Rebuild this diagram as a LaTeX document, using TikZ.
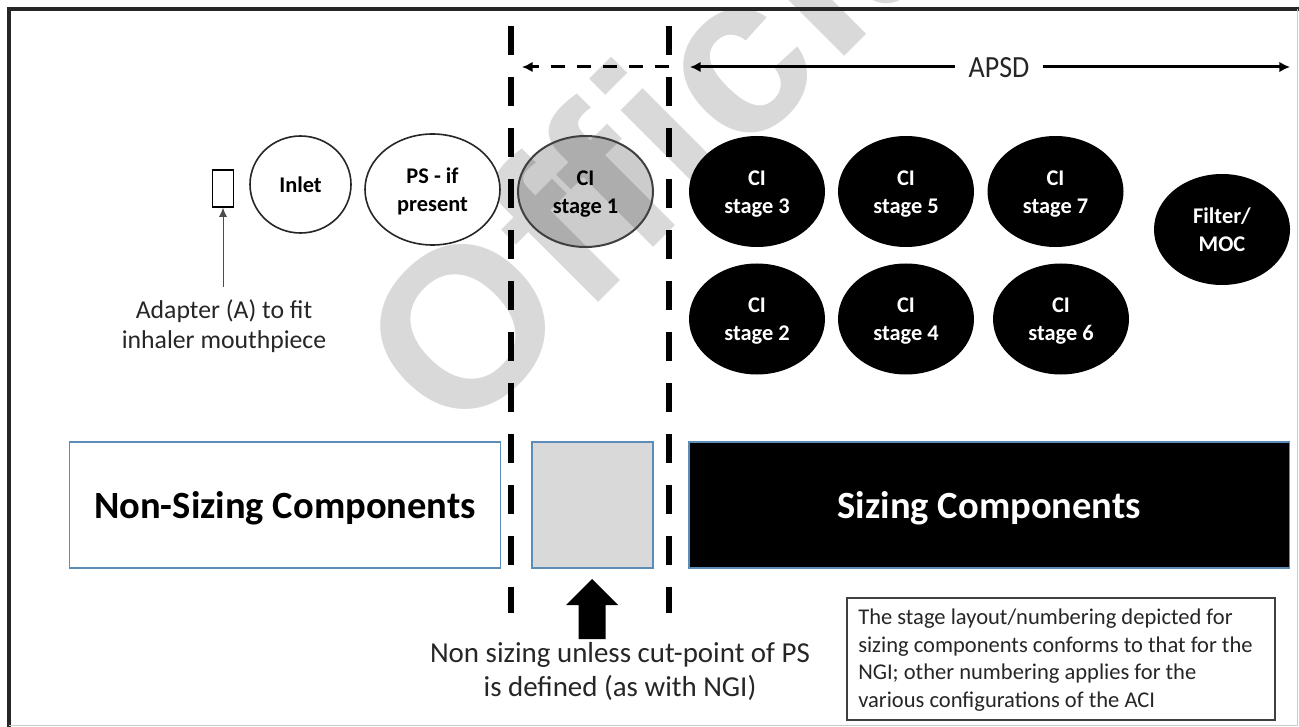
\documentclass[tikz,border=0pt]{standalone}
\usepackage{fontspec}
\setmainfont{Carlito}
\newfontfamily\wmfont[LetterSpace=1.5]{Liberation Sans}
\usetikzlibrary{arrows.meta,shapes.geometric,calc}
\definecolor{edgeblue}{HTML}{5B8DB8}
\definecolor{wmgray}{HTML}{D9D9D9}
\newcommand\ovaldrop{\rule{0pt}{14.4pt}}
\newcommand\boxdrop{\rule{0pt}{25.5pt}}
\tikzset{
  x=0.75pt,y=-0.75pt,
  px/.style={line width=#1*0.75pt},
  oval/.style 2 args={ellipse,inner sep=0pt,minimum width=#1*0.75pt,minimum height=#2*0.75pt,align=center,font=\fontsize{16.8}{21}\selectfont\bfseries},
  lightoval/.style={draw=black!85,px=1.6,fill=white},
  darkoval/.style={fill=black,text=white},
  compbox/.style={draw=edgeblue,px=1.8,inner sep=0pt,minimum height=94.5pt,font=\fontsize{28.9}{34}\selectfont\bfseries},
  cutline/.style={px=6,dash pattern=on 21.75pt off 16.5pt},
  body/.style={align=center,font=\fontsize{19.3}{22.5}\selectfont,text=black!85},
  spanarrow/.style={px=3,-{Latex[length=8pt,width=8pt]}},
}
\begin{document}
\begin{tikzpicture}
\useasboundingbox (0,0) rectangle (1299,727);
\fill[white] (0,0) rectangle (1299,727);
\begin{scope}
\clip (0,0) rectangle (1299,727);
\node[rotate=45,anchor=base west,inner sep=0pt,text=wmgray,font=\wmfont\fontsize{170}{170}\selectfont\bfseries] (wm) at (456,445) {Official};
\end{scope}
% frame
\draw[px=3.5,black!85] (9,727) -- (9,9) -- (1299,9);
\draw[px=1.5,black!20] (9,725.5) -- (1297.5,725.5) -- (1297.5,9);
% cut lines
\coordinate (c1t) at (511,26); \coordinate (c1b) at (511,613);
\coordinate (c2t) at (669,26); \coordinate (c2b) at (669,613);
\draw[cutline] (c1t) -- (c1b);
\draw[cutline] (c2t) -- (c2b);
% span arrows
\coordinate (dl) at (522,67); \coordinate (dr) at (669,67);
\draw[px=3,dash pattern=on 10.5pt off 9pt,-{Latex[length=8pt,width=8pt]}] (dr) -- (dl);
\node[font=\fontsize{21}{25}\selectfont,text=black!85,yscale=1.1] (apsd) at (999,68) {APSD};
\coordinate (al) at (690,67); \coordinate (ar) at (1290,67);
\draw[spanarrow] (955,67) -- (al);
\draw[spanarrow] (1043,67) -- (ar);
% adapter
\node[draw=black,px=1.3,fill=white,minimum width=15.75pt,minimum height=27.75pt,inner sep=0pt] (adapter) at (223,188.5) {};
\node[body] (adlabel) at (224,326) {Adapter (A) to fit\\inhaler mouthpiece};
\coordinate (adfoot) at (223,287);
\draw[px=1,black!70,-{Latex[length=7pt,width=6pt]}] (adfoot) -- (adapter.south);
% ovals
\node[oval={101}{97},lightoval] (inlet) at (300.5,184.5) {Inlet};
\node[oval={135}{111},lightoval] (ps) at (432.5,189.5) {\ovaldrop PS - if\\present};
\node[oval={135}{111},draw=black!75,px=2,fill=black,fill opacity=.2,text opacity=1] (s1) at (585.5,191.5) {\ovaldrop CI\\stage 1};
\node[oval={136}{111},darkoval] (s3) at (757,191.5) {\ovaldrop CI\\stage 3};
\node[oval={136}{111},darkoval] (s5) at (906,191.5) {\ovaldrop CI\\stage 5};
\node[oval={136}{111},darkoval] (s7) at (1055.5,191.5) {\ovaldrop CI\\stage 7};
\node[oval={136}{111},darkoval] (filt) at (1222,229.5) {Filter/\\MOC};
\node[oval={136}{111},darkoval] (s2) at (757,319) {\ovaldrop CI\\stage 2};
\node[oval={136}{111},darkoval] (s4) at (906,319) {\ovaldrop CI\\stage 4};
\node[oval={136}{111},darkoval] (s6) at (1061,319) {\ovaldrop CI\\stage 6};
% component boxes
\node[compbox,fill=white,minimum width=323.25pt] (nonsize) at (285,505) {\boxdrop Non-Sizing Components};
\node[compbox,fill=wmgray,minimum width=90.75pt] (grey) at (592.5,505) {};
\node[compbox,fill=black,text=white,minimum width=450.4pt] (size) at (989.3,505) {\boxdrop Sizing Components};
% block arrow
\fill[black] (592,579) -- (618,605) -- (605.5,605) -- (605.5,639) -- (578.5,639) -- (578.5,605) -- (566,605) -- cycle;
\node[body,font=\fontsize{21.7}{25.5}\selectfont] (nslabel) at (620,671) {Non sizing unless cut-point of PS\\is defined (as with NGI)};
% note
\node[draw=black!75,px=1.8,fill=white,minimum width=321pt,minimum height=91.5pt,inner sep=0pt] (note) at (1061,659) {};
\node[anchor=west,align=left,inner sep=0pt,font=\fontsize{16.9}{20.6}\selectfont,text=black!85] (notetext) at (858,660) {The stage layout/numbering depicted for\\sizing components conforms to that for the\\NGI; other numbering applies for the\\various configurations of the ACI};
\end{tikzpicture}
\end{document}
